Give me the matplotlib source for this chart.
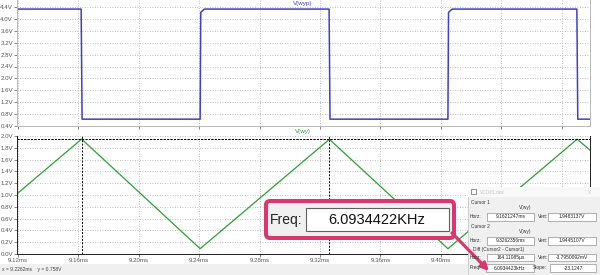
import numpy as np
import matplotlib
matplotlib.use("Agg")
import matplotlib.pyplot as plt
from matplotlib.patches import Rectangle, FancyBboxPatch, FancyArrowPatch

plt.rcParams['font.family'] = ['Liberation Sans', 'DejaVu Sans']

# ---- data (time in ms, volts) ----
sq_t = [9.1193, 9.1618, 9.1624, 9.2406, 9.2410, 9.2434, 9.3260, 9.3266,
        9.4047, 9.4051, 9.4075, 9.4901, 9.4907, 9.4988]
sq_v = [4.33, 4.33, 0.63, 0.63, 4.22, 4.33, 4.33, 0.63,
        0.63, 4.22, 4.33, 4.33, 0.63, 0.63]

tri_t = [9.1193, 9.1621, 9.2406, 9.3262, 9.4047, 9.4903, 9.4988]
tri_v = [1.02, 1.948, 0.09, 1.9445, 0.09, 1.946, 1.76]

cursor_t = [9.1621247, 9.3262356]
cursor_v = [1.9483137, 1.9445107]

x_ticks = [9.12, 9.16, 9.20, 9.24, 9.28, 9.32, 9.36, 9.40, 9.44, 9.48]
top_yticks = [0.4, 0.8, 1.2, 1.6, 2.0, 2.4, 2.8, 3.2, 3.6, 4.0, 4.4]
bot_yticks = [0.0, 0.2, 0.4, 0.6, 0.8, 1.0, 1.2, 1.4, 1.6, 1.8, 2.0]

freq_text = "6.0934422KHz"
cursor_rows = [("9.1621247ms", "1.9483137V"),
               ("9.3262356ms", "1.9445107V"),
               ("164.11085µs", "-3.7950092mV")]

W, H = 600, 275
BLUE = '#4040c0'
GREEN = '#2aa032'
PINK = '#d8386c'
GRID = '#a8a8a8'
TXT = '#555555'

fig = plt.figure(figsize=(6, 2.75), dpi=100)
fig.patch.set_facecolor('white')


def pix(x0, y0, x1, y1):
    return [x0 / W, 1 - y1 / H, (x1 - x0) / W, (y1 - y0) / H]


def style(ax, yt, fmt, spine_col):
    ax.set_xticks(x_ticks)
    ax.set_yticks(yt)
    ax.set_yticklabels([fmt.format(v) for v in yt])
    ax.grid(True, color=GRID, linestyle=(0, (1, 2)), linewidth=0.6)
    ax.tick_params(length=2, width=0.5, colors=TXT, labelsize=4.4, pad=0.8)
    for s in ax.spines.values():
        s.set_color(spine_col)
        s.set_linewidth(0.7)
    ax.spines['top'].set_visible(False)


# top pane: V(wyp)
ax1 = fig.add_axes(pix(17, 0, 590, 126))
ax1.plot(sq_t, sq_v, color=BLUE, lw=1.1)
ax1.set_xlim(9.1193, 9.4988)
ax1.set_ylim(0.4, 4.4 + 7 / 29.75)
style(ax1, top_yticks, "{:.1f}V", '#b8b8b8')
ax1.tick_params(axis='x', labelbottom=False)
fig.text(303 / W, 1 - 4 / H, "V(wyp)", color=BLUE, fontsize=4.5,
         ha='center', va='center')

# bottom pane: V(wy)
ax2 = fig.add_axes(pix(17, 136, 590, 254))
ax2.plot(tri_t, tri_v, color=GREEN, lw=0.9)
ax2.set_xlim(9.1193, 9.4988)
ax2.set_ylim(0.0, 2.0)
style(ax2, bot_yticks, "{:.1f}V", '#202020')
ax2.set_xticklabels([f"{v:.2f}ms" for v in x_ticks])
for t in cursor_t:
    ax2.axvline(t, color='black', lw=0.7, linestyle=(0, (2, 1.5)))
for v in cursor_v:
    ax2.axhline(v, color='black', lw=0.7, linestyle=(0, (2, 1.5)))
fig.text(303 / W, 1 - 131 / H, "V(wy)", color=GREEN, fontsize=4.5,
         ha='center', va='center')

# overlay in pixel coordinates
ov = fig.add_axes([0, 0, 1, 1])
ov.set_xlim(0, W)
ov.set_ylim(H, 0)
ov.axis('off')
ov.set_zorder(10)

# status bar
ov.add_patch(Rectangle((0, 264), W, 11, facecolor='#f0f0f0', edgecolor='none'))
ov.text(2, 270, "x = 9.2262ms    y = 0.758V", fontsize=3.6, color='#444444',
        va='center')

# cursor window
LAB = dict(fontsize=3.5, color='#333333', va='center')
VAL = dict(fontsize=3.5, color='#222222', va='center', ha='center')
ov.add_patch(Rectangle((468, 187), 140, 90, facecolor='#f0f0f0',
                       edgecolor='#c8c8c8', lw=0.6))
ov.add_patch(Rectangle((468, 187), 140, 10, facecolor='#f9f9f9',
                       edgecolor='none'))
ov.add_patch(Rectangle((471, 189), 5, 5, facecolor='none', edgecolor='#666666',
                       lw=0.5))
ov.text(480, 192, "VCO#1.raw", fontsize=3.4, color='#c0c0c0', va='center')
ov.text(589, 192, "X", fontsize=3.4, color='#c0c0c0', va='center', ha='center')


def field_row(yr, lab1, v1, lab2, v2, x1=487, x2=548, lab2x=538):
    ov.text(470, yr, lab1, **LAB)
    ov.add_patch(Rectangle((x1, yr - 3.8), 534 - x1, 7.6, facecolor='white',
                           edgecolor='#7a7a7a', lw=0.4))
    ov.text((x1 + 534) / 2, yr, v1, **VAL)
    ov.text(lab2x, yr, lab2, **LAB)
    ov.add_patch(Rectangle((x2, yr - 3.8), 596 - x2, 7.6, facecolor='white',
                           edgecolor='#7a7a7a', lw=0.4))
    ov.text((x2 + 596) / 2, yr, v2, **VAL)


win = [("Cursor 1", 203, 208, 217), ("Cursor 2", 227, 232, 241)]
for (name, yn, yv, yr), (h, v) in zip(win, cursor_rows[:2]):
    ov.text(471, yn, name, **LAB)
    ov.text(525, yv, "V(wy)", fontsize=3.5, color='#333333', va='center',
            ha='center')
    field_row(yr, "Horz:", h, "Vert:", v)

ov.text(473, 249, "Diff (Cursor2 - Cursor1)", **LAB)
field_row(257.5, "Horz:", cursor_rows[2][0], "Vert:", cursor_rows[2][1])
field_row(268, "Freq:", "6.0934423kHz", "Slope:", "-23.1247",
          x1=486, x2=550, lab2x=533)

# pink callout
ov.add_patch(FancyBboxPatch((266, 201), 188, 37,
                            boxstyle="round,pad=0,rounding_size=4",
                            facecolor='#f0f0f0', edgecolor=PINK, lw=2.9))
ov.add_patch(Rectangle((306, 208), 143, 23, facecolor='white',
                       edgecolor='#606060', lw=0.8))
ov.text(270, 220, "Freq:", fontsize=10, color='#222222', va='center')
ov.text(377, 220, freq_text, fontsize=10.5, color='#111111', va='center',
        ha='center')
ov.add_patch(FancyArrowPatch((452, 233), (489, 271), arrowstyle='-|>',
                             mutation_scale=11, color=PINK, lw=2.3,
                             shrinkA=0, shrinkB=0))

fig.savefig("out.png", dpi=100)
